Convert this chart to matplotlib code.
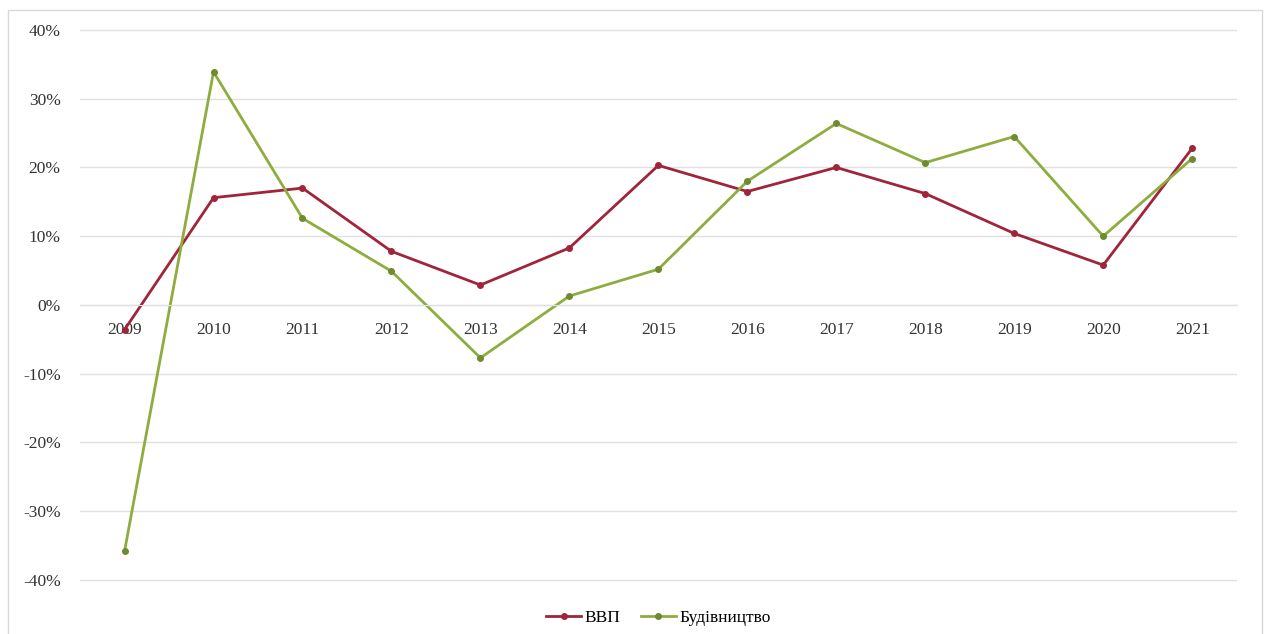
import numpy as np
import matplotlib.pyplot as plt
from matplotlib.patches import Rectangle
from matplotlib.ticker import FuncFormatter

plt.rcParams['font.family'] = ['Liberation Serif', 'DejaVu Serif']

years = ['2009', '2010', '2011', '2012', '2013', '2014', '2015',
         '2016', '2017', '2018', '2019', '2020', '2021']
gdp = [-3.6, 15.6, 17.0, 7.8, 2.9, 8.3, 20.3, 16.5, 20.0, 16.2, 10.4, 5.8, 22.8]
constr = [-35.8, 33.9, 12.6, 4.9, -7.7, 1.3, 5.2, 18.0, 26.4, 20.7, 24.5, 10.0, 21.3]

fig = plt.figure(figsize=(12.71, 6.34), dpi=100)
ax = fig.add_axes([0.063, 0.082, 0.910, 0.874])

x = np.arange(len(years))
ax.plot(x, gdp, color='#a0243a', lw=2, marker='o', ms=4, label='ВВП')
ax.plot(x, constr, color='#8fac3e', lw=2, marker='o', ms=4,
        markerfacecolor='#6f8a30', markeredgecolor='#6f8a30', label='Будівництво')

ax.set_xlim(-0.5, len(years) - 0.5)
ax.set_ylim(-40.3, 40.3)
ax.set_yticks(np.arange(-40, 41, 10))
ax.yaxis.set_major_formatter(FuncFormatter(lambda v, p: f'{v:.0f}%'))
ax.grid(axis='y', color='#e0e0e0', lw=1)
ax.set_axisbelow(True)
for s in ['top', 'right', 'left']:
    ax.spines[s].set_visible(False)
ax.spines['bottom'].set_position(('data', 0))
ax.spines['bottom'].set_color('#e0e0e0')
ax.set_xticks(x)
ax.set_xticklabels(years)
ax.tick_params(axis='x', length=0, pad=12, labelsize=12.5, colors='#333333')
ax.tick_params(axis='y', length=0, pad=14, labelsize=12.5, colors='#333333')

ax.legend(loc='upper center', bbox_to_anchor=(0.5, -0.022), ncol=2, frameon=False,
          fontsize=12.5, handlelength=2, columnspacing=1.2, handletextpad=0.2)

fig.patches.append(Rectangle((0.006, -0.01), 0.987, 0.995, transform=fig.transFigure,
                             fill=False, edgecolor='#d9d9d9', lw=1))

fig.savefig('out.png', dpi=100)
